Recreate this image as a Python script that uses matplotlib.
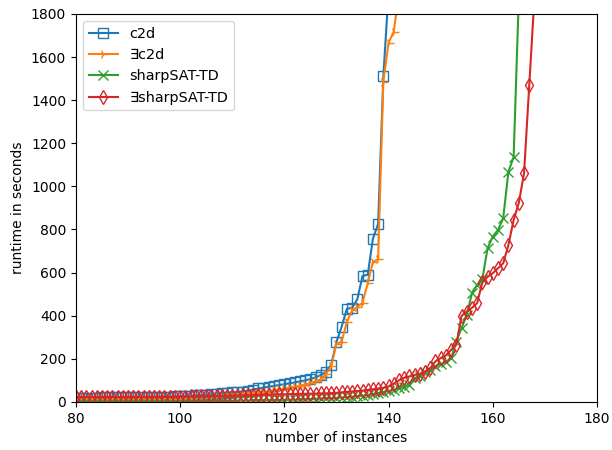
import matplotlib
matplotlib.use("Agg")
import matplotlib.pyplot as plt
import numpy as np

# sorted runtimes (seconds) per solver, instance index starts at 80
c2d = [20, 20, 20, 20, 20, 21, 21, 21, 21, 21,
       22, 22, 22, 22, 23, 23, 23, 24, 24, 25,
       26, 27, 28, 30, 32, 34, 36, 38, 40, 42,
       44, 46, 48, 52, 57, 62, 66, 70, 74, 78,
       82, 86, 90, 95, 100, 106, 113, 125, 139, 173,
       278, 349, 432, 436, 476, 584, 590, 757, 826, 1512,
       1900]
ex_c2d = [15, 15, 15, 15, 15, 16, 16, 16, 16, 16,
          16, 16, 17, 17, 17, 17, 17, 18, 18, 18,
          18, 19, 20, 21, 22, 23, 24, 26, 28, 30,
          32, 34, 36, 38, 40, 43, 46, 50, 54, 58,
          62, 66, 70, 75, 80, 88, 96, 105, 130, 165,
          268, 280, 370, 425, 440, 460, 550, 650, 662, 1486,
          1667, 1718, 1900]
sharpsat = [3, 3, 3, 3, 3, 3, 3, 3, 3, 3,
            3, 3, 3, 3, 3, 3, 3, 3, 3, 3,
            3, 3, 3, 4, 4, 4, 4, 5, 5, 5,
            5, 6, 6, 6, 7, 7, 7, 7, 8, 8,
            8, 9, 10, 11, 12, 13, 14, 15, 16, 17,
            18, 20, 22, 24, 26, 29, 32, 36, 40, 45,
            50, 56, 62, 70, 79, 110, 120, 140, 150, 165,
            175, 185, 203, 280, 342, 403, 504, 543, 570, 713,
            767, 798, 852, 1068, 1135, 1880]
ex_sharpsat = [22, 22, 22, 22, 22, 22, 22, 22, 22, 22,
               23, 23, 23, 23, 23, 23, 23, 23, 23, 23,
               24, 24, 25, 25, 26, 26, 27, 27, 28, 28,
               29, 29, 30, 30, 31, 32, 33, 33, 34, 35,
               35, 36, 36, 37, 37, 38, 38, 39, 39, 40,
               42, 44, 46, 48, 50, 52, 55, 58, 61, 65,
               72, 85, 100, 112, 118, 125, 130, 140, 156, 188,
               203, 215, 241, 264, 399, 419, 436, 458, 555, 580,
               597, 620, 643, 728, 844, 924, 1061, 1470, 1880]

series = [
    ("c2d", c2d, "s"),
    ("\u2203c2d", ex_c2d, "4"),
    ("sharpSAT-TD", sharpsat, "x"),
    ("\u2203sharpSAT-TD", ex_sharpsat, "d"),
]

fig, ax = plt.subplots(figsize=(6.12, 4.5), dpi=100)
fig.subplots_adjust(left=0.124, right=0.9755, top=0.969, bottom=0.107)

for label, vals, marker in series:
    x = np.arange(80, 80 + len(vals))
    ax.plot(x, vals, marker=marker, markersize=7, fillstyle="none",
            markeredgewidth=1.0, label=label)

ax.set_xlim(80, 180)
ax.set_ylim(0, 1800)
ax.set_xticks(range(80, 181, 20))
ax.set_yticks(range(0, 1801, 200))
ax.set_xlabel("number of instances")
ax.set_ylabel("runtime in seconds")
ax.legend(loc="upper left", fontsize=10.4)

fig.savefig("out.png", dpi=100)
